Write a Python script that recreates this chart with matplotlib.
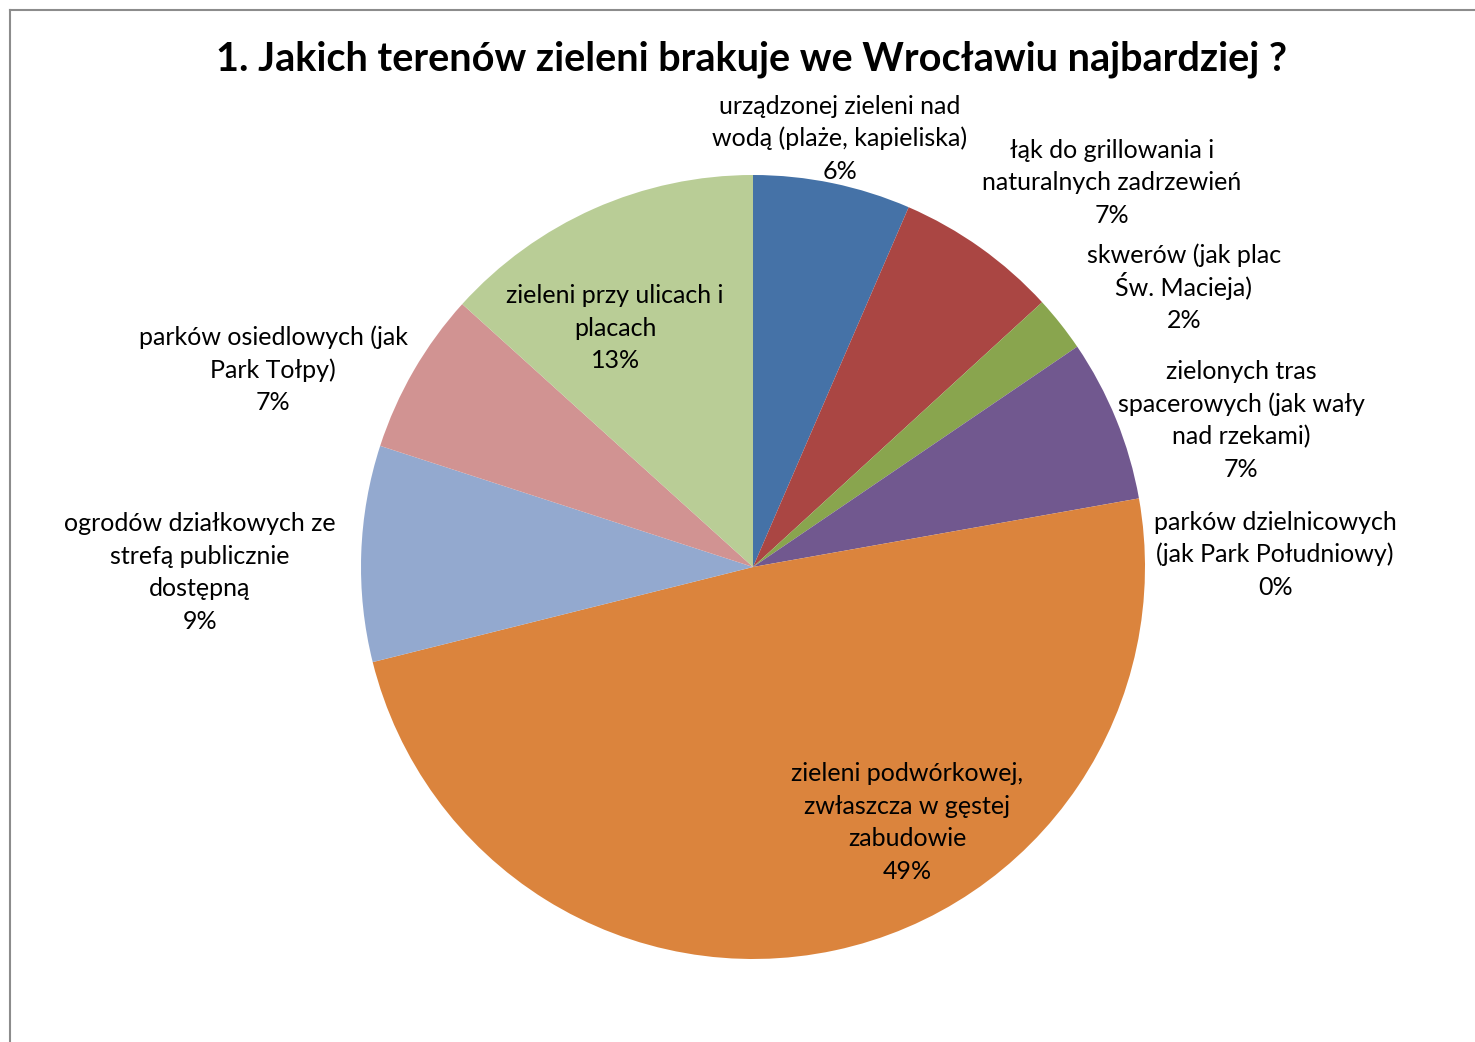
import matplotlib
matplotlib.use("Agg")
import matplotlib.pyplot as plt
from matplotlib.lines import Line2D

plt.rcParams['font.family'] = ['Lato', 'DejaVu Sans']

title = "1. Jakich terenów zieleni brakuje we Wrocławiu najbardziej ?"
categories = [
    "urządzonej zieleni nad\nwodą (plaże, kapieliska)",
    "łąk do grillowania i\nnaturalnych zadrzewień",
    "skwerów (jak plac\nŚw. Macieja)",
    "zielonych tras\nspacerowych (jak wały\nnad rzekami)",
    "parków dzielnicowych\n(jak Park Południowy)",
    "zieleni podwórkowej,\nzwłaszcza w gęstej\nzabudowie",
    "ogrodów działkowych ze\nstrefą publicznie\ndostępną",
    "parków osiedlowych (jak\nPark Tołpy)",
    "zieleni przy ulicach i\nplacach",
]
values = [6.5, 6.7, 2.3, 6.7, 0.0, 48.9, 8.9, 6.7, 13.3]
colors = ["#4572A7", "#AA4643", "#89A54E", "#71588F", "#4198AF",
          "#DB843D", "#93A9CF", "#D19392", "#B9CD96"]

# label positions in pie-radius units (layout, not data)
label_pos = [(0.222, 1.094), (0.916, 0.982), (1.099, 0.712), (1.245, 0.375),
             (1.332, 0.033), (0.393, -0.651), (-1.411, -0.013),
             (-1.224, 0.503), (-0.352, 0.610)]

W, H = 1475, 1042
cx, cy, R = 753, 567, 392
fig = plt.figure(figsize=(W / 100, H / 100), dpi=100)
ax = fig.add_axes([0, 0, 1, 1])
ax.pie(values, colors=colors, startangle=90, counterclock=False, radius=1,
       center=(0, 0), wedgeprops=dict(linewidth=0))
ax.set_xlim(-cx / R, (W - cx) / R)
ax.set_ylim(-(H - cy) / R, cy / R)
ax.set_aspect('equal')
ax.axis('off')

line_px = 32.5
px2pt = 72 / 100
for cat, v, (x, y) in zip(categories, values, label_pos):
    lines = cat.split("\n") + [f"{round(v):d}%"]
    n = len(lines)
    for i, ln in enumerate(lines):
        off = (((n - 1) / 2 - i) * line_px - 8) * px2pt
        ax.annotate(ln, xy=(x, y), xytext=(0, off), textcoords='offset points',
                    ha='center', va='baseline', fontsize=18, color='#000000')

fig.text(752 / W, 1 - 59 / H, title, ha='center', va='center',
         fontsize=28.5, fontweight='bold')

fig.add_artist(Line2D([10 / W, 10 / W], [0, 1 - 10 / H], color='#8c8c8c', lw=1.5))
fig.add_artist(Line2D([10 / W, 1], [1 - 10 / H, 1 - 10 / H], color='#8c8c8c', lw=1.5))

fig.savefig("out.png", dpi=100)
